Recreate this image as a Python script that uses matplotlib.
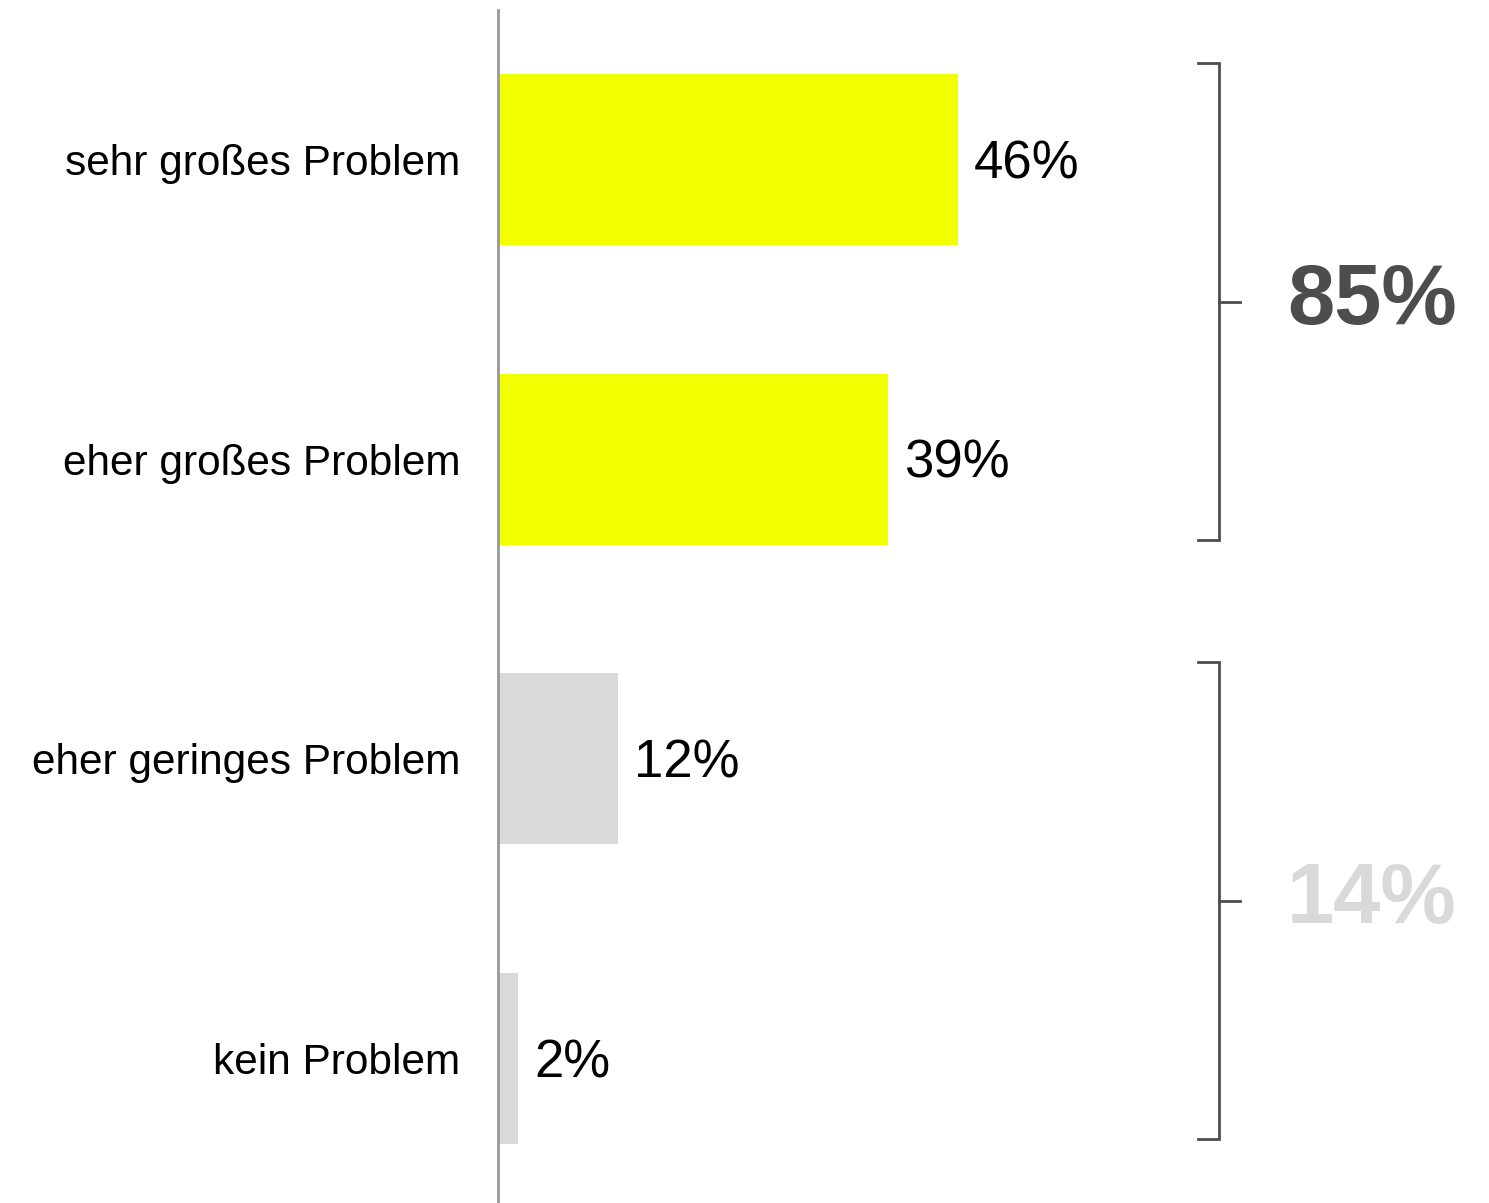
import matplotlib.pyplot as plt

plt.rcParams['font.family'] = ['Liberation Sans', 'DejaVu Sans']

categories = ['sehr großes Problem', 'eher großes Problem',
              'eher geringes Problem', 'kein Problem']
values = [46, 39, 12, 2]
groups = [(0, 1), (2, 3)]  # index ranges for the summed brackets

bar_colors = ['#f2ff00', '#f2ff00', '#d9d9d9', '#d9d9d9']
sum_colors = ['#4d4d4d', '#d9d9d9']

fig = plt.figure(figsize=(14.89, 12.03), dpi=100)
ax = fig.add_axes([498 / 1489, 0, 991 / 1489, 1193 / 1203])

y = list(range(len(categories)))
ax.barh(y, values, height=0.57, color=bar_colors)

for yi, v in zip(y, values):
    ax.text(v + 1.6, yi + 0.015, f'{v}%', va='center', ha='left',
            fontsize=38, color='black')

ax.set_xlim(0, 99.1)
ax.set_ylim(3.482, -0.499)
ax.set_yticks(y)
ax.set_yticklabels(categories, fontsize=30.5)
ax.tick_params(axis='y', length=0, pad=27)
ax.set_xticks([])
for s in ['top', 'right', 'bottom']:
    ax.spines[s].set_visible(False)
ax.spines['left'].set_color('#999999')
ax.spines['left'].set_linewidth(2)

# brackets with group totals
bx = 72.1
for (a, b), col in zip(groups, sum_colors):
    top, bot = a - 0.322, b + 0.27
    mid = (top + bot) / 2
    ax.plot([70.0, bx, bx, 70.0], [top, top, bot, bot],
            color='#4d4d4d', lw=2, solid_joinstyle='miter', clip_on=False)
    ax.plot([bx, 74.2], [mid, mid], color='#4d4d4d', lw=2, clip_on=False)
    total = sum(values[a:b + 1])
    ax.text(87.4, mid, f'{total}%', ha='center', va='center',
            fontsize=61, fontweight='bold', color=col)

fig.savefig('out.png', dpi=100, facecolor='white')
